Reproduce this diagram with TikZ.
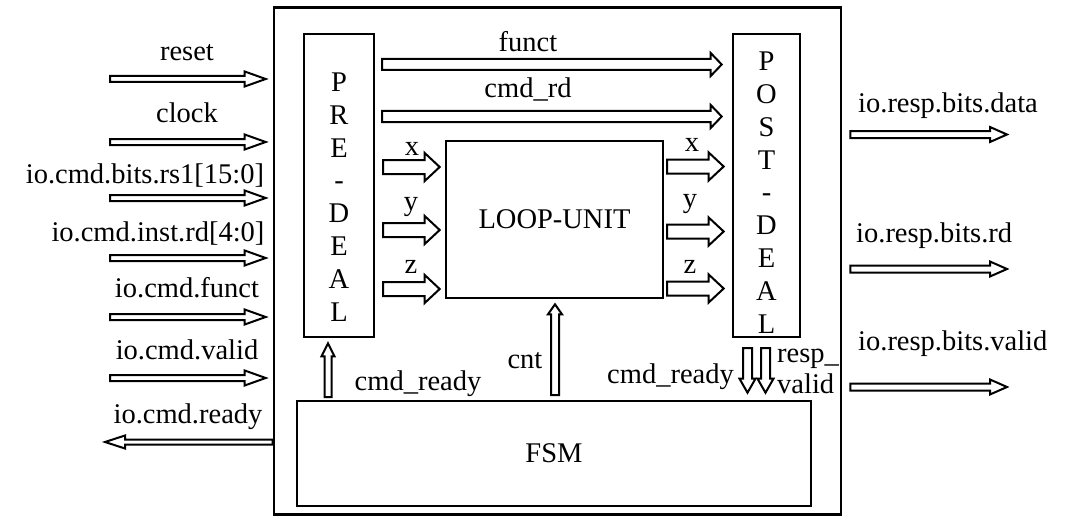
\documentclass[tikz,border=0pt]{standalone}
\usepackage{fontspec}
\setmainfont{Liberation Serif}
\usetikzlibrary{calc, positioning}

\tikzset{
  blk/.style={draw, line width=2.6pt, inner sep=0pt},
  lbl/.style={inner sep=0pt},
  bus/.style n args={3}{draw, line width=2pt, line join=miter, to path={
    ($(\tikztostart)!#1!90:(\tikztotarget)$)
    -- ($(\tikztotarget)!#3!(\tikztostart)!#1!90:(\tikztotarget)$)
    -- ($(\tikztotarget)!#3!(\tikztostart)!#2!90:(\tikztotarget)$)
    -- (\tikztotarget)
    -- ($(\tikztotarget)!#3!(\tikztostart)!#2!-90:(\tikztotarget)$)
    -- ($(\tikztotarget)!#3!(\tikztostart)!#1!-90:(\tikztotarget)$)
    -- ($(\tikztostart)!#1!-90:(\tikztotarget)$) -- cycle}},
  busin/.style={bus={3pt}{7.5pt}{21pt}},
  busout/.style={bus={3.5pt}{7.5pt}{17pt}},
  buswide/.style={bus={5.5pt}{11.5pt}{11pt}},
  busxyz/.style={bus={7pt}{14pt}{15pt}},
}

\begin{document}
\begin{tikzpicture}[x=1pt, y=-1pt, font=\fontsize{28.5}{32.8}\selectfont]
  \useasboundingbox (0,0) rectangle (1080,527);

  % blocks
  \node[blk, minimum width=567pt, minimum height=507pt] (top) at (557.5,261) {};
  \node[blk, minimum width=70pt, minimum height=303pt] (pre) at (339,185.5) {};
  \node[blk, minimum width=67pt, minimum height=303pt] (post) at (766.5,185.5) {};
  \node[blk, minimum width=217pt, minimum height=157pt] (loop) at (554.5,219.5) {LOOP-UNIT};
  \node[blk, minimum width=514pt, minimum height=105pt] (fsm) at (554,453.5) {FSM};
  \node[lbl, align=center] (pretxt) at (339,197) {P\\R\\E\\-\\D\\E\\A\\L};
  \node[lbl, align=center] (posttxt) at (766.5,192.5) {P\\O\\S\\T\\-\\D\\E\\A\\L};

  % inputs
  \coordinate (reset) at (110,79);
  \coordinate (clock) at (110,142);
  \coordinate (rs1) at (110,198);
  \coordinate (instrd) at (110,258);
  \coordinate (funct) at (110,317);
  \coordinate (valid) at (110,378);
  \coordinate (ready) at (105,442);
  \draw[busin] (reset) to ([xshift=-7pt]top.west |- reset);
  \draw[busin] (clock) to ([xshift=-7pt]top.west |- clock);
  \draw[busin] (rs1) to ([xshift=-7pt]top.west |- rs1);
  \draw[busin] (instrd) to ([xshift=-7pt]top.west |- instrd);
  \draw[busin] (funct) to ([xshift=-7pt]top.west |- funct);
  \draw[busin] (valid) to ([xshift=-7pt]top.west |- valid);
  \draw[bus={2.5pt}{6.5pt}{20pt}] (top.west |- ready) to (ready);
  \node[lbl, anchor=base] at (187,61) {reset};
  \node[lbl, anchor=base] at (187,123) {clock};
  \node[lbl, anchor=base] at (145,183) {io.cmd.bits.rs1[15:0]};
  \node[lbl, anchor=base] at (158,241) {io.cmd.inst.rd[4:0]};
  \node[lbl, anchor=base] at (187,297) {io.cmd.funct};
  \node[lbl, anchor=base] at (187,359) {io.cmd.valid};
  \node[lbl, anchor=base] at (188,423) {io.cmd.ready};

  % outputs
  \coordinate (data) at (1007,134.5);
  \coordinate (rd) at (1007,269);
  \coordinate (rvalid) at (1007,387);
  \draw[busout] ([xshift=8pt]top.east |- data) to (data);
  \draw[busout] ([xshift=8pt]top.east |- rd) to (rd);
  \draw[busout] ([xshift=8pt]top.east |- rvalid) to (rvalid);
  \node[lbl, anchor=base west] at (858,113) {io.resp.bits.data};
  \node[lbl, anchor=base west] at (856,242) {io.resp.bits.rd};
  \node[lbl, anchor=base west] at (858,350) {io.resp.bits.valid};

  % pre-deal to post-deal
  \coordinate (fn) at (382,64.5);
  \coordinate (crd) at (382,116.5);
  \draw[buswide] (fn) to ([xshift=-10pt]post.west |- fn);
  \draw[buswide] (crd) to ([xshift=-10pt]post.west |- crd);
  \node[lbl, anchor=base] at (528,52) {funct};
  \node[lbl, anchor=base] at (528,98) {cmd\_rd};

  % loop unit
  \coordinate (xi) at (383,167);
  \coordinate (yi) at (383,230);
  \coordinate (zi) at (383,289);
  \coordinate (xo) at (667,166.5);
  \coordinate (yo) at (667,231.5);
  \coordinate (zo) at (667,288.5);
  \draw[busxyz] (xi) to ([xshift=-5pt]loop.west |- xi);
  \draw[busxyz] (yi) to ([xshift=-5pt]loop.west |- yi);
  \draw[busxyz] (zi) to ([xshift=-5pt]loop.west |- zi);
  \draw[busxyz] (xo) to ([xshift=-8pt]post.west |- xo);
  \draw[busxyz] (yo) to ([xshift=-8pt]post.west |- yo);
  \draw[busxyz] (zo) to ([xshift=-8pt]post.west |- zo);
  \node[lbl, anchor=base] at (412,155) {x};
  \node[lbl, anchor=base] at (411,210) {y};
  \node[lbl, anchor=base] at (411,273) {z};
  \node[lbl, anchor=base] at (692,151) {x};
  \node[lbl, anchor=base] at (690,207) {y};
  \node[lbl, anchor=base] at (690,273) {z};

  % fsm
  \coordinate (prein) at (328,397);
  \coordinate (cnt) at (555,395);
  \coordinate (cr) at (747.5,348);
  \coordinate (rv) at (765.5,348);
  \draw[bus={3.5pt}{6.5pt}{13pt}] (prein) to ([yshift=-5pt]pre.south -| prein);
  \draw[bus={4pt}{7pt}{10pt}] (cnt) to ([yshift=-5pt]loop.south -| cnt);
  \draw[bus={4.5pt}{8pt}{14pt}] (cr) to ([yshift=7pt]fsm.north -| cr);
  \draw[bus={4.5pt}{8pt}{14pt}] (rv) to ([yshift=7pt]fsm.north -| rv);
  \node[lbl, anchor=base] at (418,390) {cmd\_ready};
  \node[lbl, anchor=base] at (525,368) {cnt};
  \node[lbl, anchor=base east] at (734,383) {cmd\_ready};
  \node[lbl, anchor=base west, align=left, font=\fontsize{28.5}{31}\selectfont] at (777,393) {resp\_\\valid};
\end{tikzpicture}
\end{document}
